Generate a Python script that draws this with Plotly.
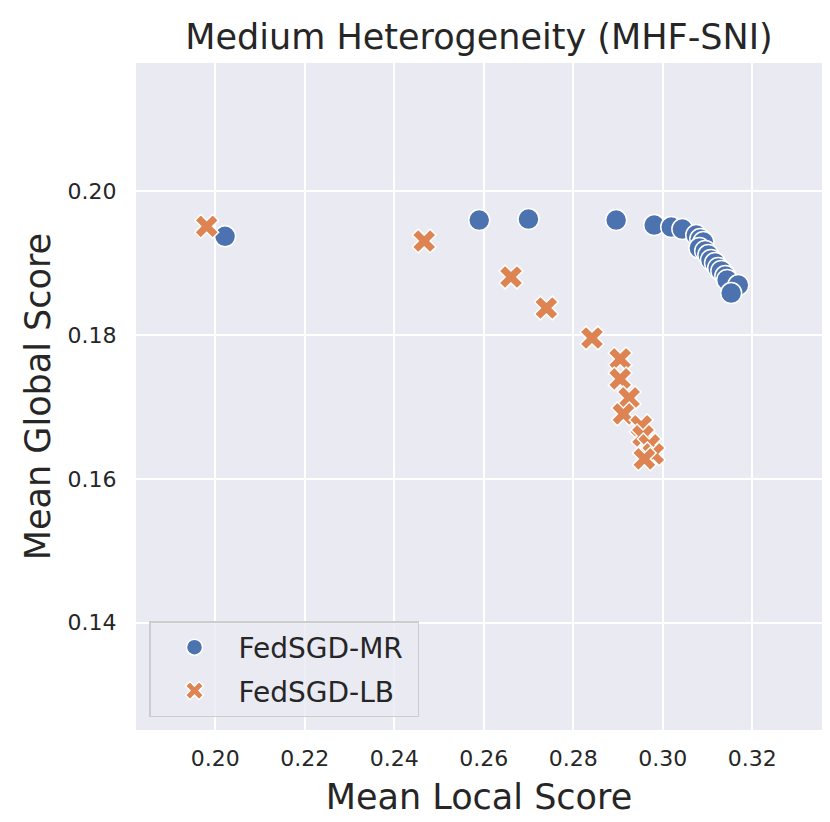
import plotly.graph_objects as go

# FedSGD-MR (blue circles)
mr_local = [0.2022, 0.2590, 0.2700, 0.2896, 0.2981, 0.3019, 0.3044, 0.3075, 0.3084, 0.3091,
            0.3082, 0.3095, 0.3102, 0.3108, 0.3117, 0.3124, 0.3131, 0.3140, 0.3144, 0.3169, 0.3153]
mr_global = [0.19371, 0.19597, 0.19611, 0.19597, 0.19528, 0.19500, 0.19472, 0.19389, 0.19333, 0.19292,
             0.19208, 0.19167, 0.19111, 0.19042, 0.19000, 0.18931, 0.18889, 0.18819, 0.18764, 0.18694, 0.18583]

# FedSGD-LB (orange X)
lb_local = [0.1981, 0.2467, 0.2661, 0.2740, 0.2842, 0.2905, 0.2905, 0.2925, 0.2912, 0.2952,
            0.2956, 0.2970, 0.2979, 0.2959]
lb_global = [0.19510, 0.19306, 0.18806, 0.18375, 0.17958, 0.17667, 0.17389, 0.17125, 0.16903, 0.16736,
             0.16597, 0.16472, 0.16347, 0.16278]

x_ticks = [0.20, 0.22, 0.24, 0.26, 0.28, 0.30, 0.32]
y_ticks = [0.14, 0.16, 0.18, 0.20]

FONT = "DejaVu Sans"
TXT = "#262626"
BLUE = "#4C72B0"
ORANGE = "#DD8452"

fig = go.Figure()
fig.add_trace(go.Scatter(
    x=mr_local, y=mr_global, mode="markers", name="FedSGD-MR\u00a0", legendgroup="mr",
    marker=dict(symbol="circle", size=21, color=BLUE, line=dict(color="white", width=1.5)),
))
fig.add_trace(go.Scatter(
    x=lb_local, y=lb_global, mode="markers", name="FedSGD-LB", legendgroup="lb",
    marker=dict(symbol="x", size=21, color=ORANGE, line=dict(color="white", width=1.5)),
))

fig.update_layout(
    width=830, height=822,
    margin=dict(l=128, r=16, t=55, b=100),
    paper_bgcolor="white",
    plot_bgcolor="#EAEAF2",
    font=dict(family=FONT, color=TXT),
    title=dict(text="Medium Heterogeneity (MHF-SNI)", x=0.5, xanchor="center", xref="paper",
               y=1 - 29 / 822, yanchor="middle", yref="container",
               font=dict(size=35, family=FONT, color=TXT)),
    xaxis=dict(
        range=[0.1823, 0.3356], tickvals=x_ticks, ticktext=[f"{v:.2f}" for v in x_ticks],
        showgrid=True, gridcolor="white", gridwidth=1.6, zeroline=False, showline=False,
        ticks="outside", ticklen=9, tickcolor="rgba(0,0,0,0)",
        tickfont=dict(size=22, family=FONT, color=TXT),
        title=dict(text="Mean Local Score", font=dict(size=35, family=FONT, color=TXT), standoff=14),
    ),
    yaxis=dict(
        range=[0.1251, 0.2178], tickvals=y_ticks, ticktext=[f"{v:.2f}" for v in y_ticks],
        showgrid=True, gridcolor="white", gridwidth=1.6, zeroline=False, showline=False,
        ticks="outside", ticklen=14, tickcolor="rgba(0,0,0,0)",
        tickfont=dict(size=22, family=FONT, color=TXT),
        title=dict(text="Mean Global Score", font=dict(size=35, family=FONT, color=TXT), standoff=6),
    ),
    legend=dict(
        x=(141 - 128) / 686, y=(722 - 709) / 667, xanchor="left", yanchor="bottom",
        bgcolor="rgba(234,234,242,0.8)", bordercolor="#CCCCCC", borderwidth=1.5,
        font=dict(size=28, family=FONT, color=TXT),
        itemsizing="trace", itemwidth=78,
        tracegroupgap=4,
    ),
    showlegend=True,
)

fig.write_html("out.html")
